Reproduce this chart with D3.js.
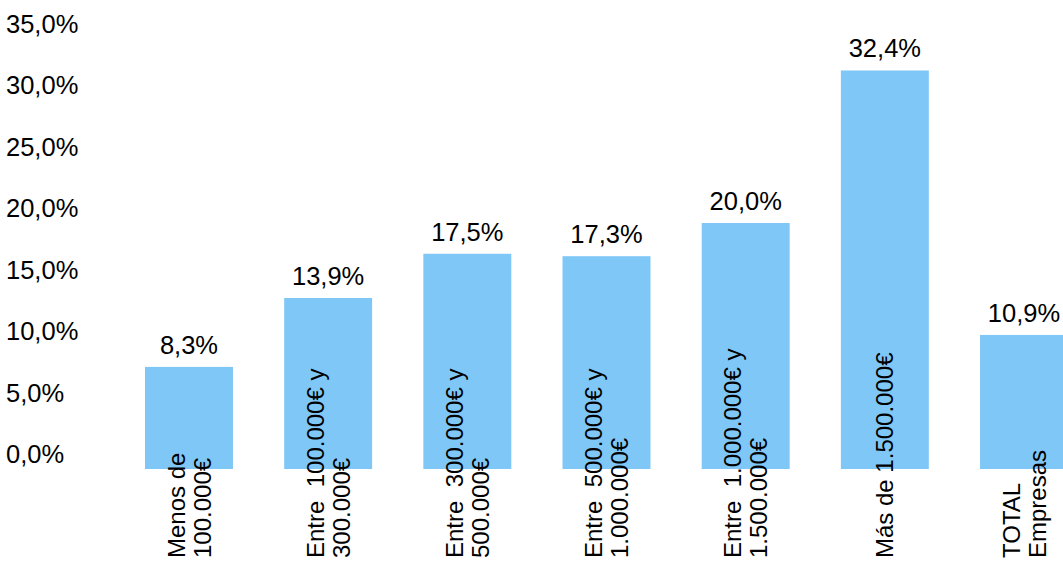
<!DOCTYPE html>
<html>
<head>
<meta charset="utf-8">
<script src="https://cdn.jsdelivr.net/npm/d3@7"></script>
<style>
  html, body { margin: 0; padding: 0; background: #fff; overflow: hidden; }
  text { font-family: "Liberation Sans", Arial, sans-serif; fill: #000; }
</style>
</head>
<body>
<div class="chart"></div>
<script>
// data
const categories = [
  ['Menos de', '100.000€'],
  ['Entre  100.000€ y', '300.000€'],
  ['Entre  300.000€ y', '500.000€'],
  ['Entre  500.000€ y', '1.000.000€'],
  ['Entre  1.000.000€ y', '1.500.000€'],
  ['Más de 1.500.000€'],
  ['TOTAL', 'Empresas']
];
const values = [8.3, 13.9, 17.5, 17.3, 20.0, 32.4, 10.9];
const yTicks = [0, 5, 10, 15, 20, 25, 30, 35];

//==========STRUCTURE==========
const width = 1063, height = 563;
const fmt = v => d3.format('.1f')(v).replace('.', ',') + '%';

const svg = d3.select('.chart').append('svg')
  .attr('width', width)
  .attr('height', height);

const x = d3.scaleBand()
  .domain(d3.range(values.length))
  .range([145, 1068])
  .paddingInner(0.368)
  .paddingOuter(0)
  .align(0);

const y = d3.scaleLinear()
  .domain([0, 35])
  .range([469, 38.5]);

// y tick labels (no axis line)
svg.append('g')
  .selectAll('text')
  .data(yTicks)
  .enter()
  .append('text')
  .attr('x', 6)
  .attr('y', d => y(d) - 6)
  .attr('font-size', 25.5)
  .text(fmt);

// bars
svg.append('g')
  .selectAll('rect')
  .data(values)
  .enter()
  .append('rect')
  .attr('x', (d, i) => x(i))
  .attr('y', d => y(d))
  .attr('width', x.bandwidth())
  .attr('height', d => y(0) - y(d))
  .attr('fill', '#7fc7f6');

// value labels
svg.append('g')
  .selectAll('text')
  .data(values)
  .enter()
  .append('text')
  .attr('x', (d, i) => x(i) + x.bandwidth() / 2)
  .attr('y', d => y(d) - 13)
  .attr('text-anchor', 'middle')
  .attr('font-size', 25.5)
  .text(fmt);

// category labels, rotated
const catSize = 24, lineGap = 26, capH = catSize * 0.716;
const cats = svg.append('g')
  .selectAll('text')
  .data(categories)
  .enter()
  .append('text')
  .attr('font-size', catSize)
  .attr('transform', (d, i) => `translate(${x(i) + x.bandwidth() / 2},558) rotate(-90)`);

cats.selectAll('tspan')
  .data(d => d.map((t, j) => ({t, j, n: d.length})))
  .enter()
  .append('tspan')
  .attr('x', 0)
  .attr('y', d => (d.j - (d.n - 1) / 2) * lineGap + capH / 2)
  .style('white-space', 'pre')
  .text(d => d.t);
</script>
</body>
</html>
